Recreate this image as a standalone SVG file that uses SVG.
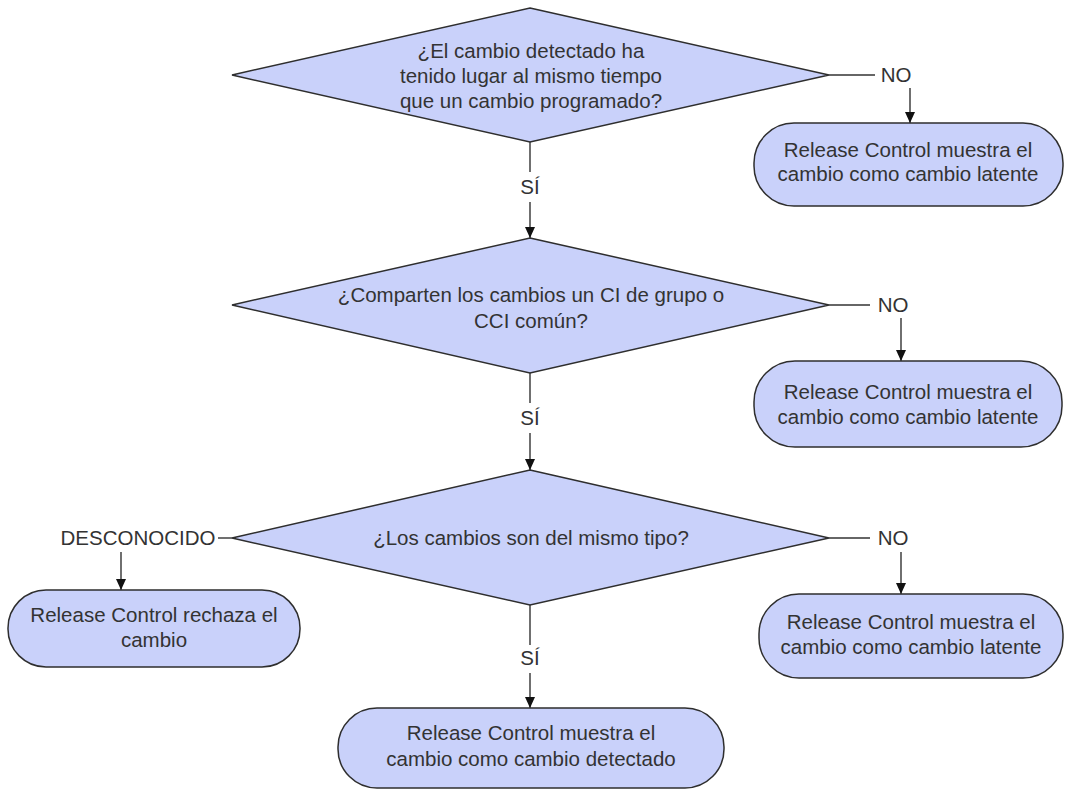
<svg xmlns="http://www.w3.org/2000/svg" width="1067" height="790" viewBox="0 0 1067 790">
  <style>
    .shape { fill: #c9d1fa; stroke: #2e2e2e; stroke-width: 1.5; }
    .lbl { font-family: "Liberation Sans", Arial, sans-serif; font-size: 20.5px; fill: #333333; text-anchor: middle; }
    .edge { fill: none; stroke: #333333; stroke-width: 1.4; }
  </style>
  <defs>
    <marker id="arrow" markerUnits="userSpaceOnUse" markerWidth="11" markerHeight="10" refX="11" refY="5" orient="auto">
      <path d="M0,0 L11,5 L0,10 z" fill="#111111"/>
    </marker>
  </defs>

  <rect width="1067" height="790" fill="#ffffff"/>

  <!-- connectors -->
  <g id="connectors">
    <!-- decision 1 -->
    <line class="edge" x1="829" y1="75" x2="875" y2="75"/>
    <text class="lbl" x="896" y="82">NO</text>
    <line class="edge" x1="910" y1="88" x2="910" y2="123" marker-end="url(#arrow)"/>
    <line class="edge" x1="530" y1="142" x2="530" y2="172"/>
    <text class="lbl" x="530" y="194">SÍ</text>
    <line class="edge" x1="530" y1="202" x2="530" y2="238" marker-end="url(#arrow)"/>

    <!-- decision 2 -->
    <line class="edge" x1="829" y1="305" x2="870" y2="305"/>
    <text class="lbl" x="893" y="312">NO</text>
    <line class="edge" x1="901" y1="318" x2="901" y2="361" marker-end="url(#arrow)"/>
    <line class="edge" x1="530" y1="373" x2="530" y2="403"/>
    <text class="lbl" x="530" y="425">SÍ</text>
    <line class="edge" x1="530" y1="433" x2="530" y2="470" marker-end="url(#arrow)"/>

    <!-- decision 3 -->
    <line class="edge" x1="829" y1="538" x2="870" y2="538"/>
    <text class="lbl" x="893" y="545">NO</text>
    <line class="edge" x1="901" y1="552" x2="901" y2="594" marker-end="url(#arrow)"/>
    <line class="edge" x1="232" y1="538" x2="218" y2="538"/>
    <text class="lbl" x="138" y="545">DESCONOCIDO</text>
    <line class="edge" x1="121" y1="552" x2="121" y2="590" marker-end="url(#arrow)"/>
    <line class="edge" x1="530" y1="605" x2="530" y2="645"/>
    <text class="lbl" x="530" y="665">SÍ</text>
    <line class="edge" x1="530" y1="673" x2="530" y2="708" marker-end="url(#arrow)"/>
  </g>

  <!-- decisions -->
  <g id="decision-programado">
    <polygon class="shape" points="530,8 829,75 530,142 232,75"/>
    <text class="lbl" x="531" y="58">¿El cambio detectado ha</text>
    <text class="lbl" x="531" y="83">tenido lugar al mismo tiempo</text>
    <text class="lbl" x="531" y="108">que un cambio programado?</text>
  </g>

  <g id="decision-ci-comun">
    <polygon class="shape" points="530,238 829,305 530,373 232,305"/>
    <text class="lbl" x="531" y="302">¿Comparten los cambios un CI de grupo o</text>
    <text class="lbl" x="531" y="328">CCI común?</text>
  </g>

  <g id="decision-tipo">
    <polygon class="shape" points="530,470 829,538 530,605 232,538"/>
    <text class="lbl" x="531" y="545">¿Los cambios son del mismo tipo?</text>
  </g>

  <!-- outcomes -->
  <g id="latente-1">
    <rect class="shape" x="754" y="123" width="309" height="83" rx="40" ry="40"/>
    <text class="lbl" x="908" y="157">Release Control muestra el</text>
    <text class="lbl" x="908" y="181">cambio como cambio latente</text>
  </g>

  <g id="latente-2">
    <rect class="shape" x="754" y="361" width="308" height="86" rx="41" ry="41"/>
    <text class="lbl" x="908" y="399">Release Control muestra el</text>
    <text class="lbl" x="908" y="424">cambio como cambio latente</text>
  </g>

  <g id="latente-3">
    <rect class="shape" x="759" y="594" width="304" height="84" rx="40" ry="40"/>
    <text class="lbl" x="911" y="629">Release Control muestra el</text>
    <text class="lbl" x="911" y="654">cambio como cambio latente</text>
  </g>

  <g id="rechaza">
    <rect class="shape" x="8" y="590" width="292" height="77" rx="38" ry="38"/>
    <text class="lbl" x="154" y="622">Release Control rechaza el</text>
    <text class="lbl" x="154" y="647">cambio</text>
  </g>

  <g id="detectado">
    <rect class="shape" x="338" y="708" width="386" height="80" rx="39" ry="39"/>
    <text class="lbl" x="531" y="740">Release Control muestra el</text>
    <text class="lbl" x="531" y="766">cambio como cambio detectado</text>
  </g>
</svg>
